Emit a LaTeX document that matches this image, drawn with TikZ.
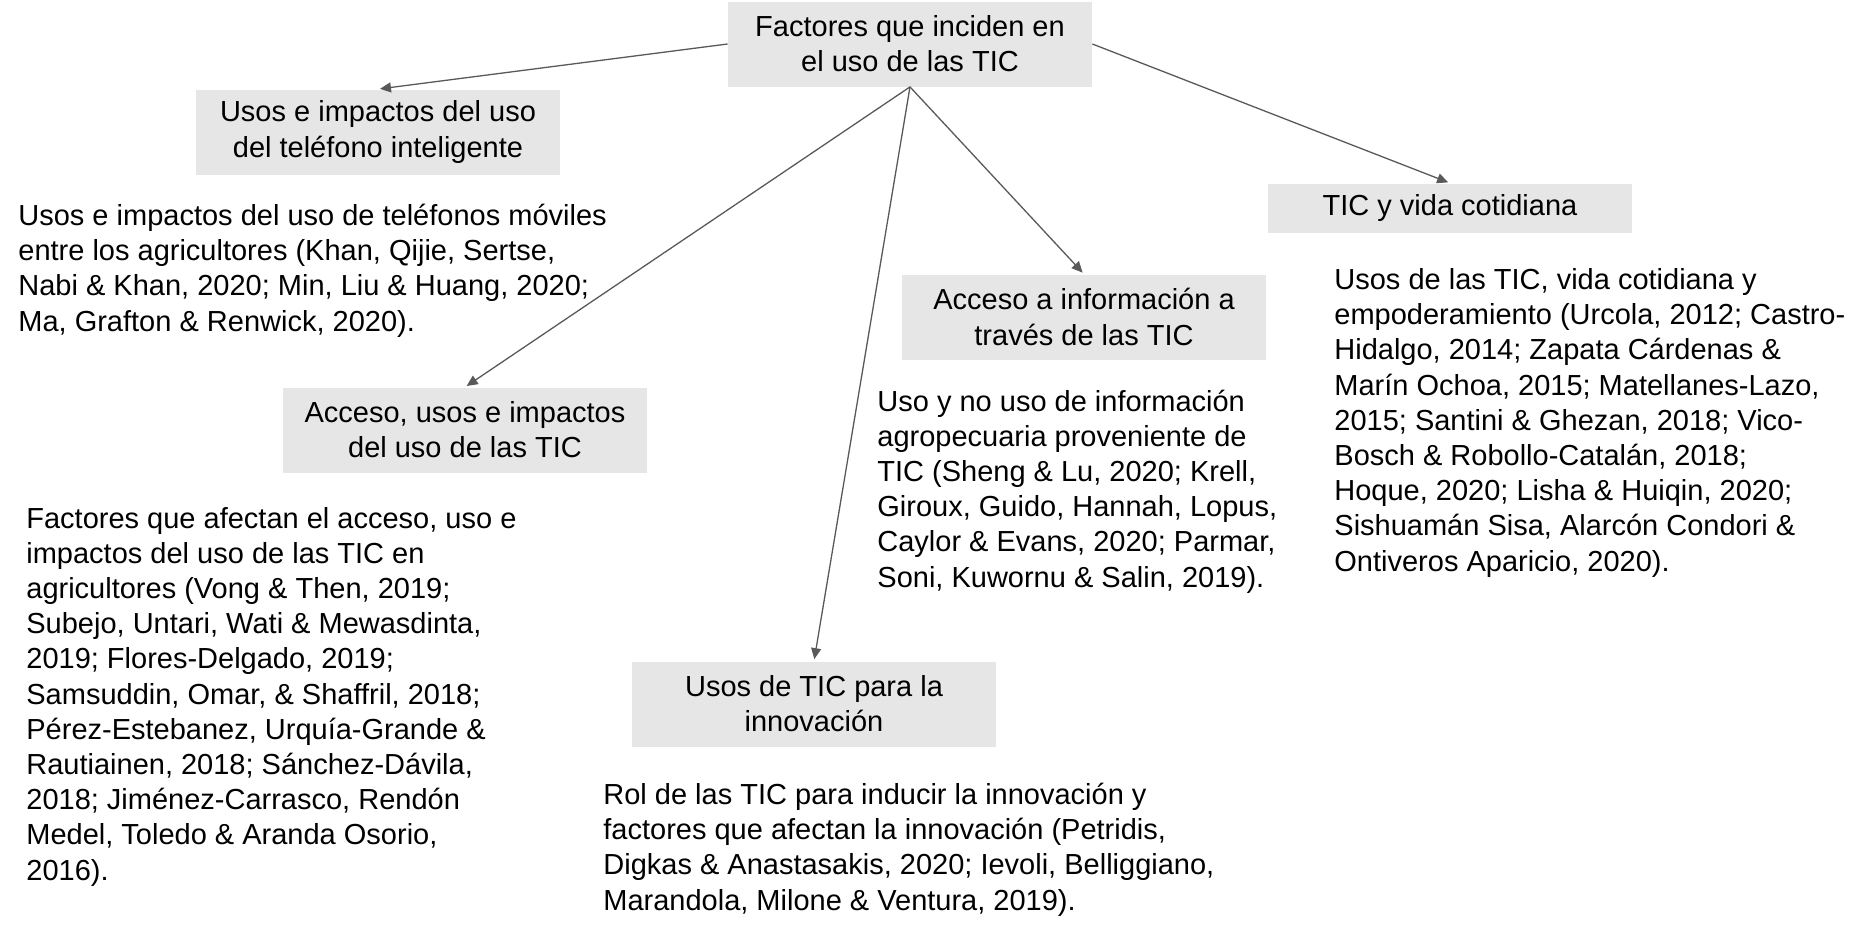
\documentclass[tikz,border=0pt]{standalone}
\usepackage{fontspec}
\setmainfont{Liberation Sans}
\usetikzlibrary{arrows.meta}
\definecolor{boxgray}{RGB}{230,230,230}
\definecolor{linkgray}{RGB}{89,89,89}
\tikzset{
	topic/.style={fill=boxgray, minimum width=182pt, minimum height=42.5pt, align=center, inner sep=0pt},
	refs/.style={anchor=base west, align=left, inner sep=0pt},
	link/.style={draw=linkgray, line width=0.65pt, -{Triangle[length=5.5pt,width=5pt]}, shorten >=1pt}
}
\begin{document}
\begin{tikzpicture}[x=0.5pt, y=-0.5pt, font=\fontsize{14.5}{17.6}\selectfont]
			%%%%% START %%%%%
			\useasboundingbox (0, 0) rectangle (1864, 937);
			
			% reference blocks are placed at the baseline of their last line
			\node[topic] (root) at (910, 44) {Factores que inciden en\\el uso de las TIC};
			
			\node[topic] (movil) at (378, 132) {Usos e impactos del uso\\del teléfono inteligente};
			\node[refs] (movilref) at (18, 331) {Usos e impactos del uso de teléfonos móviles\\entre los agricultores (Khan, Qijie, Sertse,\\Nabi \& Khan, 2020; Min, Liu \& Huang, 2020;\\Ma, Grafton \& Renwick, 2020).};
			
			\node[topic] (acceso) at (465, 430) {Acceso, usos e impactos\\del uso de las TIC};
			\node[refs] (accesoref) at (26, 880) {Factores que afectan el acceso, uso e\\impactos del uso de las TIC en\\agricultores (Vong \& Then, 2019;\\Subejo, Untari, Wati \& Mewasdinta,\\2019; Flores-Delgado, 2019;\\Samsuddin, Omar, \& Shaffril, 2018;\\Pérez-Estebanez, Urquía-Grande \&\\Rautiainen, 2018; Sánchez-Dávila,\\2018; Jiménez-Carrasco, Rendón\\Medel, Toledo \& Aranda Osorio,\\2016).};
			
			\node[topic] (innova) at (814, 704) {Usos de TIC para la\\innovación};
			\node[refs] (innovaref) at (603, 910) {Rol de las TIC para inducir la innovación y\\factores que afectan la innovación (Petridis,\\Digkas \& Anastasakis, 2020; Ievoli, Belliggiano,\\Marandola, Milone \& Ventura, 2019).};
			
			\node[topic] (info) at (1084, 317) {Acceso a información a\\través de las TIC};
			\node[refs] (inforef) at (877, 587) {Uso y no uso de información\\agropecuaria proveniente de\\TIC (Sheng \& Lu, 2020; Krell,\\Giroux, Guido, Hannah, Lopus,\\Caylor \& Evans, 2020; Parmar,\\Soni, Kuwornu \& Salin, 2019).};
			
			\node[topic, minimum height=24.5pt] (vida) at (1450, 208) {TIC y vida cotidiana};
			\node[refs] (vidaref) at (1334, 571) {Usos de las TIC, vida cotidiana y\\empoderamiento (Urcola, 2012; Castro-\\Hidalgo, 2014; Zapata Cárdenas \&\\Marín Ochoa, 2015; Matellanes-Lazo,\\2015; Santini \& Ghezan, 2018; Vico-\\Bosch \& Robollo-Catalán, 2018;\\Hoque, 2020; Lisha \& Huiqin, 2020;\\Sishuamán Sisa, Alarcón Condori \&\\Ontiveros Aparicio, 2020).};
			
			\draw[link] (root.west) -- (movil.north);
			\draw[link] (root.south) -- (acceso.north);
			\draw[link] (root.south) -- (innova.north);
			\draw[link] (root.south) -- (info.north);
			\draw[link] (root.east) -- (vida.north);
			
			%%%%% END %%%%%
		\end{tikzpicture}
\end{document}
